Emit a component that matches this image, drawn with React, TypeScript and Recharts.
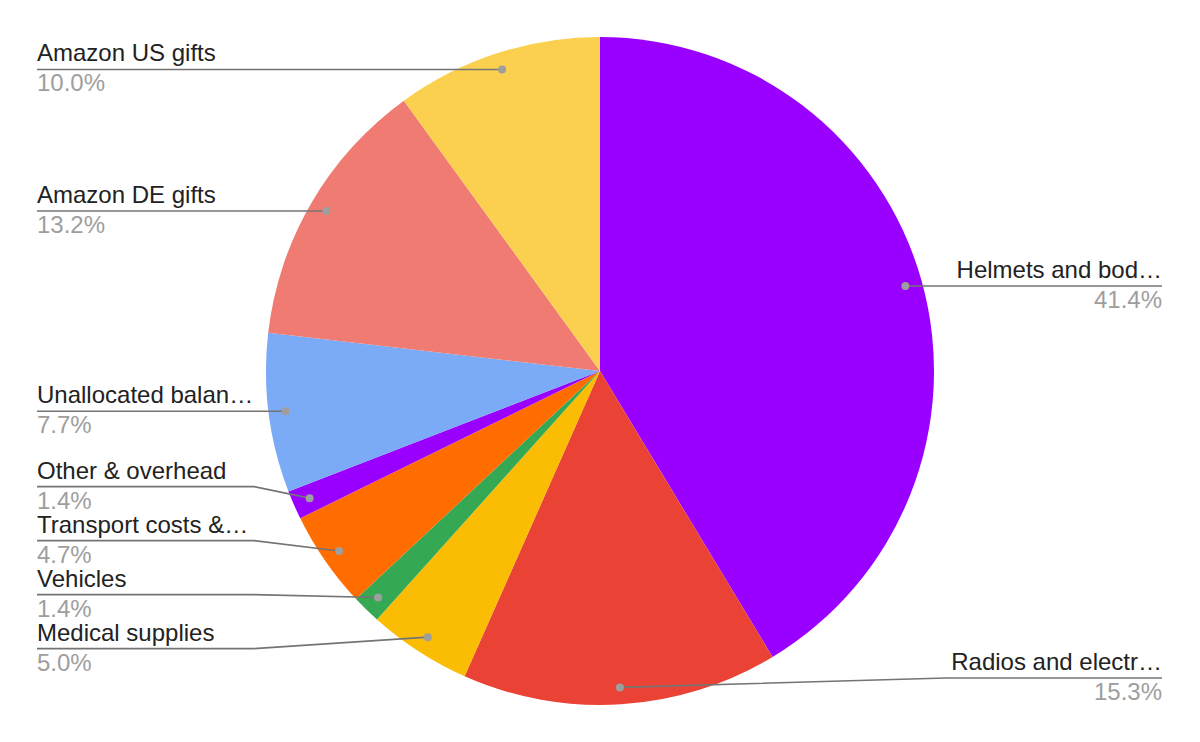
import React, { useMemo } from 'react';
import { PieChart, Pie, Cell } from 'recharts';

// slice labels as shown on the chart (truncated the same way)
const names = [
  'Helmets and bod…',
  'Radios and electr…',
  'Medical supplies',
  'Vehicles',
  'Transport costs &…',
  'Other & overhead',
  'Unallocated balan…',
  'Amazon DE gifts',
  'Amazon US gifts',
];
const shares = [41.4, 15.3, 5.0, 1.4, 4.7, 1.4, 7.7, 13.2, 10.0];
const colors = ['#9900ff', '#ea4335', '#fbbc04', '#34a853', '#ff6d01', '#9900ff', '#7baaf7', '#f07b72', '#fcd04f'];

const CX = 600;
const CY = 371;
const R = 334;
const DOT_R = 317;
const GAP = 54;
const MIN_Y = 40;
const MAX_Y = 678;
const LEFT_X = 37;
const RIGHT_X = 1162;
const FONT = '"Liberation Sans", Arial, sans-serif';

const RAD = Math.PI / 180;

interface Placed {
  index: number;
  ideal: number;
}

// push labels on one side apart so the two-line labels don't overlap
function spread(items: Placed[]): { [k: number]: number } {
  const sorted = [...items].sort((a, b) => a.ideal - b.ideal);
  type Cluster = { members: Placed[]; top: number };
  const clusters: Cluster[] = [];
  const fit = (c: Cluster) => {
    const n = c.members.length;
    const shifted = c.members.map((m, k) => m.ideal - k * GAP);
    // keep the largest displacement as small as possible
    let top = (Math.min(...shifted) + Math.max(...shifted)) / 2;
    top = Math.max(MIN_Y, Math.min(MAX_Y - (n - 1) * GAP, top));
    c.top = top;
  };
  sorted.forEach(item => {
    const c: Cluster = { members: [item], top: item.ideal };
    fit(c);
    clusters.push(c);
    while (clusters.length > 1) {
      const last = clusters[clusters.length - 1];
      const prev = clusters[clusters.length - 2];
      if (prev.top + prev.members.length * GAP > last.top) {
        prev.members = prev.members.concat(last.members);
        fit(prev);
        clusters.pop();
      } else break;
    }
  });
  const out: { [k: number]: number } = {};
  clusters.forEach(c => c.members.forEach((m, k) => { out[m.index] = c.top + k * GAP; }));
  return out;
}

const App: React.FC = () => {
  const data = useMemo(() => names.map((name, i) => ({ name, value: shares[i] })), []);

  // target y of each label line
  const labelY = useMemo(() => {
    const total = shares.reduce((a, b) => a + b, 0);
    let cum = 0;
    const left: Placed[] = [];
    const right: Placed[] = [];
    shares.forEach((v, i) => {
      const mid = 90 - (360 * (cum + v / 2)) / total;
      cum += v;
      const y = CY - DOT_R * Math.sin(mid * RAD);
      if (Math.cos(mid * RAD) >= 0) right.push({ index: i, ideal: y });
      else left.push({ index: i, ideal: y });
    });
    return { ...spread(left), ...spread(right) };
  }, []);

  const renderLabel = (props: any) => {
    const { cx, cy, midAngle, index } = props;
    const cos = Math.cos(-midAngle * RAD);
    const sin = Math.sin(-midAngle * RAD);
    const dx = cx + DOT_R * cos;
    const dy = cy + DOT_R * sin;
    const isRight = cos >= 0;
    const ly = labelY[index];
    const kneeX = isRight ? cx + R + 12 : cx - R - 12;
    const endX = isRight ? RIGHT_X : LEFT_X;
    const anchor = isRight ? 'end' : 'start';
    return (
      <g key={`lbl-${index}`}>
        <polyline
          points={`${dx},${dy} ${kneeX},${ly} ${endX},${ly}`}
          fill="none"
          stroke="#747474"
          strokeWidth={1.6}
        />
        <circle cx={dx} cy={dy} r={4} fill="#9e9e9e" />
        <text x={endX} y={ly - 8} textAnchor={anchor} fontFamily={FONT} fontSize={24} fill="#222222">
          {names[index]}
        </text>
        <text x={endX} y={ly + 22} textAnchor={anchor} fontFamily={FONT} fontSize={24} fill="#9e9e9e">
          {`${shares[index].toFixed(1)}%`}
        </text>
      </g>
    );
  };

  return (
    <div style={{ position: 'absolute', left: 0, top: 0, width: 1200, height: 742, background: '#fff' }}>
      <PieChart width={1200} height={742} margin={{ top: 0, right: 0, bottom: 0, left: 0 }}>
        <Pie
          data={data}
          dataKey="value"
          nameKey="name"
          cx={CX}
          cy={CY}
          outerRadius={R}
          startAngle={90}
          endAngle={-270}
          stroke="none"
          label={renderLabel}
          labelLine={false}
          isAnimationActive={false}
        >
          {data.map((d, i) => (
            <Cell key={d.name} fill={colors[i]} />
          ))}
        </Pie>
      </PieChart>
    </div>
  );
};

export default App;
